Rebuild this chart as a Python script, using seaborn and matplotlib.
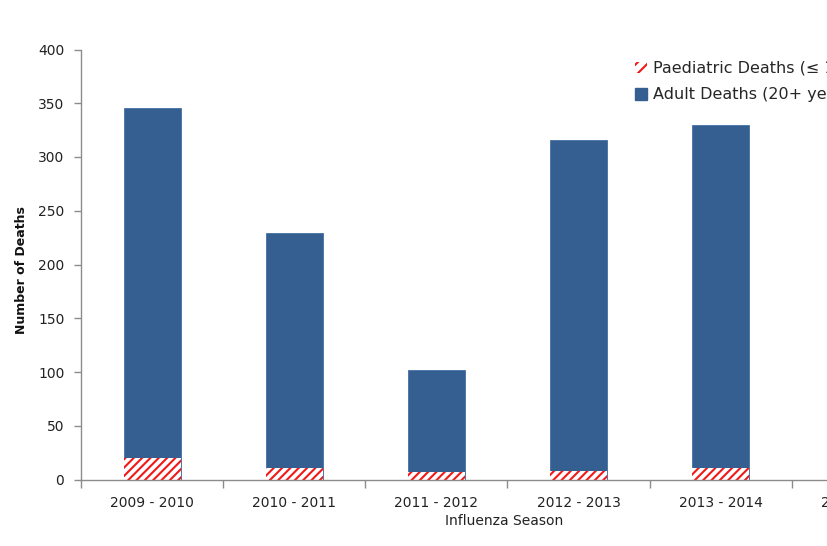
import numpy as np
import pandas as pd
import seaborn as sns
import matplotlib.pyplot as plt
from matplotlib.patches import Patch

# ---- data ----
seasons = ["2009 - 2010", "2010 - 2011", "2011 - 2012", "2012 - 2013", "2013 - 2014", "2014 - 2015"]
data_seasons = ["2009 - 2010", "2010 - 2011", "2011 - 2012", "2012 - 2013", "2013 - 2014"]
paediatric = [20, 11, 7, 8, 11]
adult = [326, 218, 95, 308, 319]
y_ticks = [0, 50, 100, 150, 200, 250, 300, 350, 400]

BLUE = "#365F91"
RED = "#F21818"
GRAY = "#8C8C8C"

df = pd.DataFrame({"season": data_seasons, "paediatric": paediatric, "adult": adult})
df["total"] = df["paediatric"] + df["adult"]

sns.set_style("white")
plt.rcParams["font.family"] = ["DejaVu Sans"]
plt.rcParams["hatch.color"] = RED
plt.rcParams["hatch.linewidth"] = 1.5

W, H = 828, 546
fig = plt.figure(figsize=(W / 100, H / 100), dpi=100)
ax = fig.add_axes([81 / W, 1 - 479.5 / H, 853 / W, 430 / H])

# stacked bars: total (blue) then paediatric part drawn over the bottom
sns.barplot(data=df, x="season", y="total", order=seasons, color=BLUE, saturation=1,
            width=0.4, errorbar=None, edgecolor="#4470A3", linewidth=0.6, ax=ax)
sns.barplot(data=df, x="season", y="paediatric", order=seasons, color="white", saturation=1,
            width=0.4, errorbar=None, hatch="////", edgecolor=RED, linewidth=0, ax=ax)

ax.set_xlim(-0.5, len(seasons) - 0.5)
ax.set_ylim(0, 400)
ax.set_yticks(y_ticks)

# category ticks: labels at centers, separator marks at boundaries
ax.set_xticks(range(len(seasons)))
ax.set_xticklabels(seasons)
ax.set_xticks(np.arange(-0.5, len(seasons), 1), minor=True)
ax.tick_params(axis="x", which="major", length=0, pad=12, labelsize=10, labelcolor="#222222")
ax.tick_params(axis="x", which="minor", length=6, width=1, color=GRAY, direction="out", bottom=True)
ax.tick_params(axis="y", which="major", length=5, width=1, color=GRAY, direction="out",
               left=True, pad=7, labelsize=10, labelcolor="#222222")

for s in ["top", "right"]:
    ax.spines[s].set_visible(False)
for s in ["left", "bottom"]:
    ax.spines[s].set_color(GRAY)
    ax.spines[s].set_linewidth(1)

ax.set_xlabel("Influenza Season", fontsize=10, color="#222222")
ax.xaxis.label.set_verticalalignment("center")
ax.xaxis.set_label_coords((504 - 81) / 853, (479.5 - 521) / 430)

ax.set_ylabel("Number of Deaths", fontsize=9, fontweight="bold", color="#111111")
ax.yaxis.label.set_verticalalignment("center")
ax.yaxis.set_label_coords((22 - 81) / 853, (479.5 - 270) / 430)

handles = [
    Patch(facecolor="white", edgecolor=RED, hatch="///", linewidth=0,
          label="Paediatric Deaths (\u2264 19 years)"),
    Patch(facecolor=BLUE, edgecolor=BLUE, label="Adult Deaths (20+ years)"),
]
fig.legend(handles=handles, loc="upper left", bbox_to_anchor=(635 / W, 1 - 61 / H),
           frameon=False, fontsize=11.5, handlelength=0.75, handleheight=0.75,
           handletextpad=0.4, borderpad=0, borderaxespad=0, labelspacing=0.72)

fig.savefig("out.png", dpi=100)
